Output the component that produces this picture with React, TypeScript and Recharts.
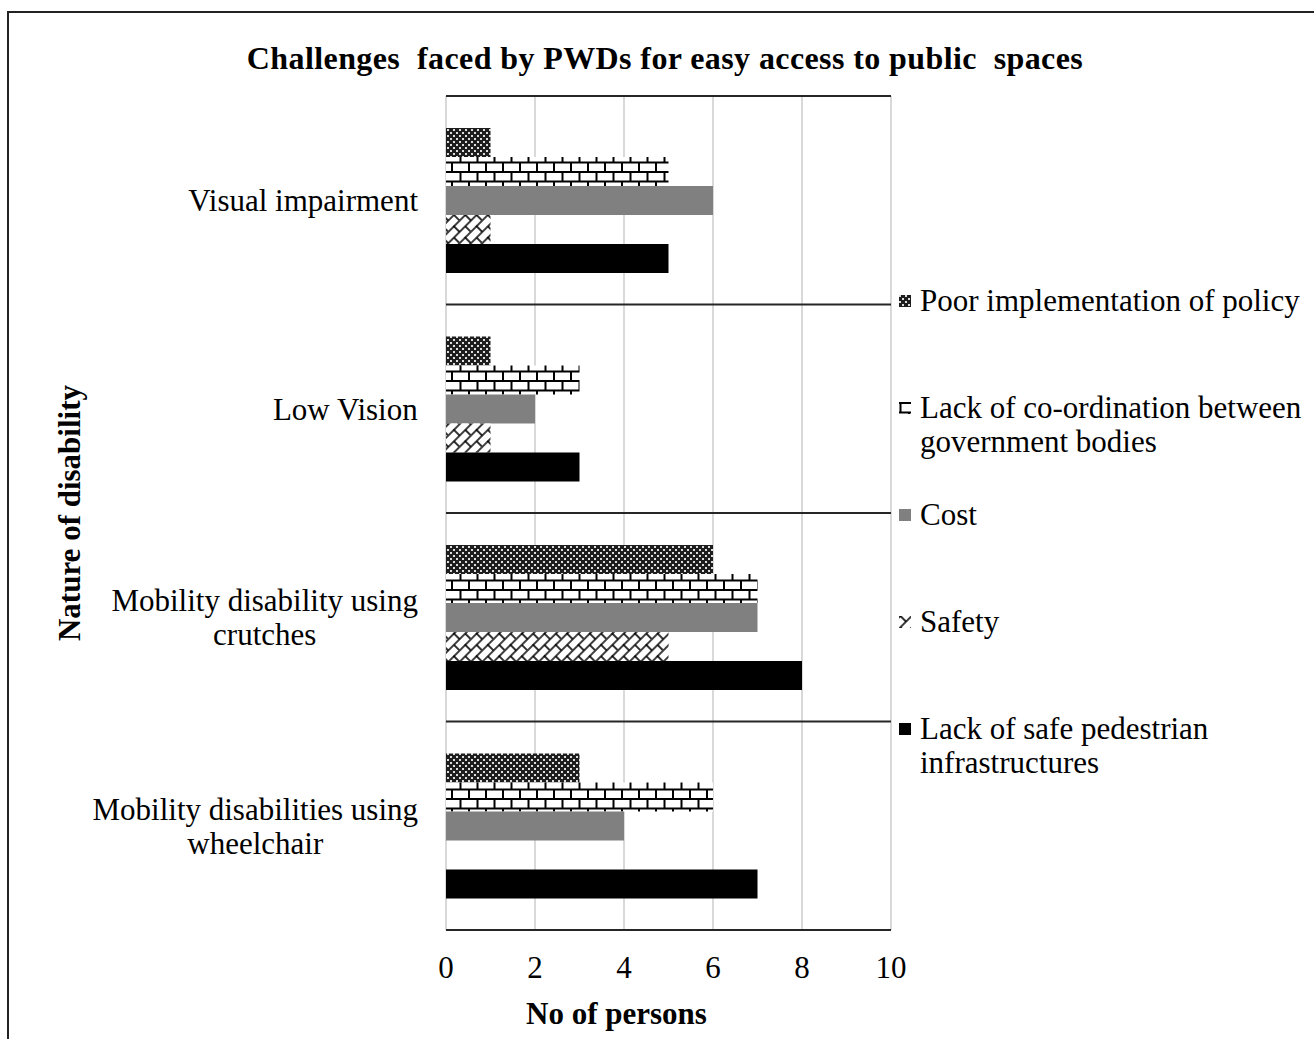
import React from 'react';
import { BarChart, Bar, XAxis, YAxis, CartesianGrid, Legend } from 'recharts';

const categories = [
  'Visual impairment',
  'Low Vision',
  'Mobility disability using crutches',
  'Mobility disabilities using wheelchair',
];
const categoryLines: string[][] = [
  ['Visual impairment'],
  ['Low Vision'],
  ['Mobility disability using', 'crutches'],
  ['Mobility disabilities using', 'wheelchair'],
];
const poorImplementation = [1, 1, 6, 3];
const lackCoordination = [5, 3, 7, 6];
const cost = [6, 2, 7, 4];
const safety = [1, 1, 5, 0];
const lackSafeInfra = [5, 3, 8, 7];
const xTicks = [0, 2, 4, 6, 8, 10];

const seriesKeys = ['poor', 'coord', 'cost', 'safety', 'infra'];
const seriesNames = [
  'Poor implementation of policy',
  'Lack of co-ordination between government bodies',
  'Cost',
  'Safety',
  'Lack of safe pedestrian infrastructures',
];
const seriesLegendLines: string[][] = [
  ['Poor implementation of policy'],
  ['Lack of co-ordination between', 'government bodies'],
  ['Cost'],
  ['Safety'],
  ['Lack of safe pedestrian', 'infrastructures'],
];
const seriesFills = ['url(#pPoor)', 'url(#pBrick)', '#808080', 'url(#pDiag)', '#000000'];

const title = 'Challenges  faced by PWDs for easy access to public  spaces';
const xTitle = 'No of persons';
const yTitle = 'Nature of disability';

const data = categories.map((c, i) => ({
  category: c,
  poor: poorImplementation[i],
  coord: lackCoordination[i],
  cost: cost[i],
  safety: safety[i],
  infra: lackSafeInfra[i],
}));

const FONT = '"Liberation Serif", "Times New Roman", serif';
const FS = 31;

let measureCtx: CanvasRenderingContext2D | null = null;
function measure(text: string, font: string): number {
  if (!measureCtx) {
    const c = document.createElement('canvas');
    measureCtx = c.getContext('2d');
  }
  if (!measureCtx) return text.length * FS * 0.45;
  measureCtx.font = font;
  return measureCtx.measureText(text).width;
}

const CategoryTick = (props: any) => {
  const { x, y, payload } = props;
  const idx = categories.indexOf(payload.value);
  const lines = idx >= 0 ? categoryLines[idx] : [String(payload.value)];
  const lh = 34;
  const widths = lines.map((l) => measure(l, `${FS}px ${FONT}`));
  const maxW = Math.max(...widths);
  const cx = x - maxW / 2;
  const startY = y - ((lines.length - 1) * lh) / 2;
  return (
    <g>
      {lines.map((l, i) => (
        <text
          key={i}
          x={cx}
          y={startY + i * lh}
          dy="0.35em"
          textAnchor="middle"
          fontFamily={FONT}
          fontSize={FS}
          fill="#000"
        >
          {l}
        </text>
      ))}
    </g>
  );
};

const NumberTick = (props: any) => {
  const { x, y, payload } = props;
  return (
    <text x={x} y={y} dy="0.35em" textAnchor="middle" fontFamily={FONT} fontSize={FS} fill="#000">
      {payload.value}
    </text>
  );
};

const XTitle = (props: any) => {
  const vb = props.viewBox || { x: 446, y: 930, width: 445, height: 60 };
  return (
    <text
      x={vb.x + vb.width / 2 - 52}
      y={vb.y + 94}
      textAnchor="middle"
      fontFamily={FONT}
      fontSize={FS}
      fontWeight="bold"
      fill="#000"
    >
      {xTitle}
    </text>
  );
};

const YTitle = (props: any) => {
  const vb = props.viewBox || { x: 50, y: 96, width: 396, height: 834 };
  const cx = vb.x + 30;
  const cy = vb.y + vb.height / 2;
  return (
    <text
      x={0}
      y={0}
      transform={`translate(${cx},${cy}) rotate(-90)`}
      textAnchor="middle"
      fontFamily={FONT}
      fontSize={FS}
      fontWeight="bold"
      fill="#000"
    >
      {yTitle}
    </text>
  );
};

const LegendContent = () => (
  <div style={{ fontFamily: FONT, fontSize: FS, color: '#000' }}>
    {seriesNames.map((name, i) => (
      <div key={name} style={{ height: 107, display: 'flex', alignItems: 'flex-start' }}>
        <svg width={12} height={12} style={{ marginTop: 11, marginLeft: 6, marginRight: 9, flex: 'none' }}>
          <rect x={0} y={0} width={12} height={12} fill={seriesFills[i]} />
        </svg>
        <div style={{ lineHeight: '34px', whiteSpace: 'nowrap' }}>
          {seriesLegendLines[i].map((l, j) => (
            <div key={j}>{l}</div>
          ))}
        </div>
      </div>
    ))}
  </div>
);

const horizontalBoundaries = (args: any) => {
  const off = args && args.offset ? args.offset : { top: 96, height: 834 };
  const n = categories.length;
  const out: number[] = [];
  for (let i = 0; i <= n; i++) out.push(off.top + (i * off.height) / n);
  return out;
};

export default function App() {
  return (
    <div
      style={{
        position: 'absolute',
        left: 0,
        top: 0,
        width: 1314,
        height: 1039,
        background: '#fff',
        overflow: 'hidden',
      }}
    >
      <div
        style={{
          position: 'absolute',
          left: 7,
          top: 11,
          right: 0,
          bottom: 0,
          borderTop: '2px solid #222',
          borderLeft: '2px solid #222',
        }}
      />
      <div
        style={{
          position: 'absolute',
          left: 0,
          width: 1330,
          top: 38,
          textAlign: 'center',
          fontFamily: FONT,
          fontSize: 32,
          fontWeight: 'bold',
          letterSpacing: 0.4,
          whiteSpace: 'pre',
          lineHeight: '40px',
          color: '#000',
        }}
      >
        {title}
      </div>
      <div style={{ position: 'absolute', left: 0, top: 0 }}>
        <BarChart
          width={1314}
          height={1039}
          data={data}
          layout="vertical"
          margin={{ top: 96, right: 423, bottom: 49, left: 50 }}
          barCategoryGap={32}
          barGap={0}
        >
          <defs>
            <pattern id="pPoor" width="6" height="6" patternUnits="userSpaceOnUse">
              <rect width="6" height="6" fill="#1e1e1e" />
              <rect x="0" y="0" width="2" height="2" fill="#ffffff" opacity="0.85" />
              <rect x="3" y="3" width="2" height="2" fill="#ffffff" opacity="0.85" />
            </pattern>
            <pattern id="pBrick" width="17" height="19" patternUnits="userSpaceOnUse">
              <rect width="17" height="19" fill="#ffffff" />
              <path d="M0 1H17 M0 10.5H17 M1.5 0V10.5 M10 10.5V19" stroke="#000" strokeWidth="2" />
            </pattern>
            <pattern
              id="pDiag"
              width="16"
              height="16"
              patternUnits="userSpaceOnUse"
              patternTransform="rotate(-45)"
            >
              <rect width="16" height="16" fill="#ffffff" />
              <path d="M0 1H16 M0 9H16 M1 0V9 M9 9V16" stroke="#000" strokeWidth="1.6" />
            </pattern>
          </defs>
          <CartesianGrid horizontal={false} vertical={true} stroke="#d9d9d9" strokeWidth={2} />
          <CartesianGrid
            horizontal={true}
            vertical={false}
            stroke="#262626"
            strokeWidth={2}
            horizontalCoordinatesGenerator={horizontalBoundaries}
          />
          <XAxis
            type="number"
            domain={[0, 10]}
            ticks={xTicks}
            axisLine={false}
            tickLine={false}
            tickSize={0}
            tickMargin={37}
            height={60}
            tick={<NumberTick />}
            label={<XTitle />}
            interval={0}
          />
          <YAxis
            type="category"
            dataKey="category"
            axisLine={false}
            tickLine={false}
            tickSize={0}
            tickMargin={28}
            width={396}
            tick={<CategoryTick />}
            label={<YTitle />}
            interval={0}
          />
          <Legend
            layout="vertical"
            align="center"
            verticalAlign="middle"
            wrapperStyle={{ position: 'absolute', left: 893, top: 284, width: 421, height: 560 }}
            content={<LegendContent />}
          />
          {seriesKeys.map((k, i) => (
            <Bar key={k} dataKey={k} name={seriesNames[i]} fill={seriesFills[i]} isAnimationActive={false} />
          ))}
        </BarChart>
      </div>
    </div>
  );
}
